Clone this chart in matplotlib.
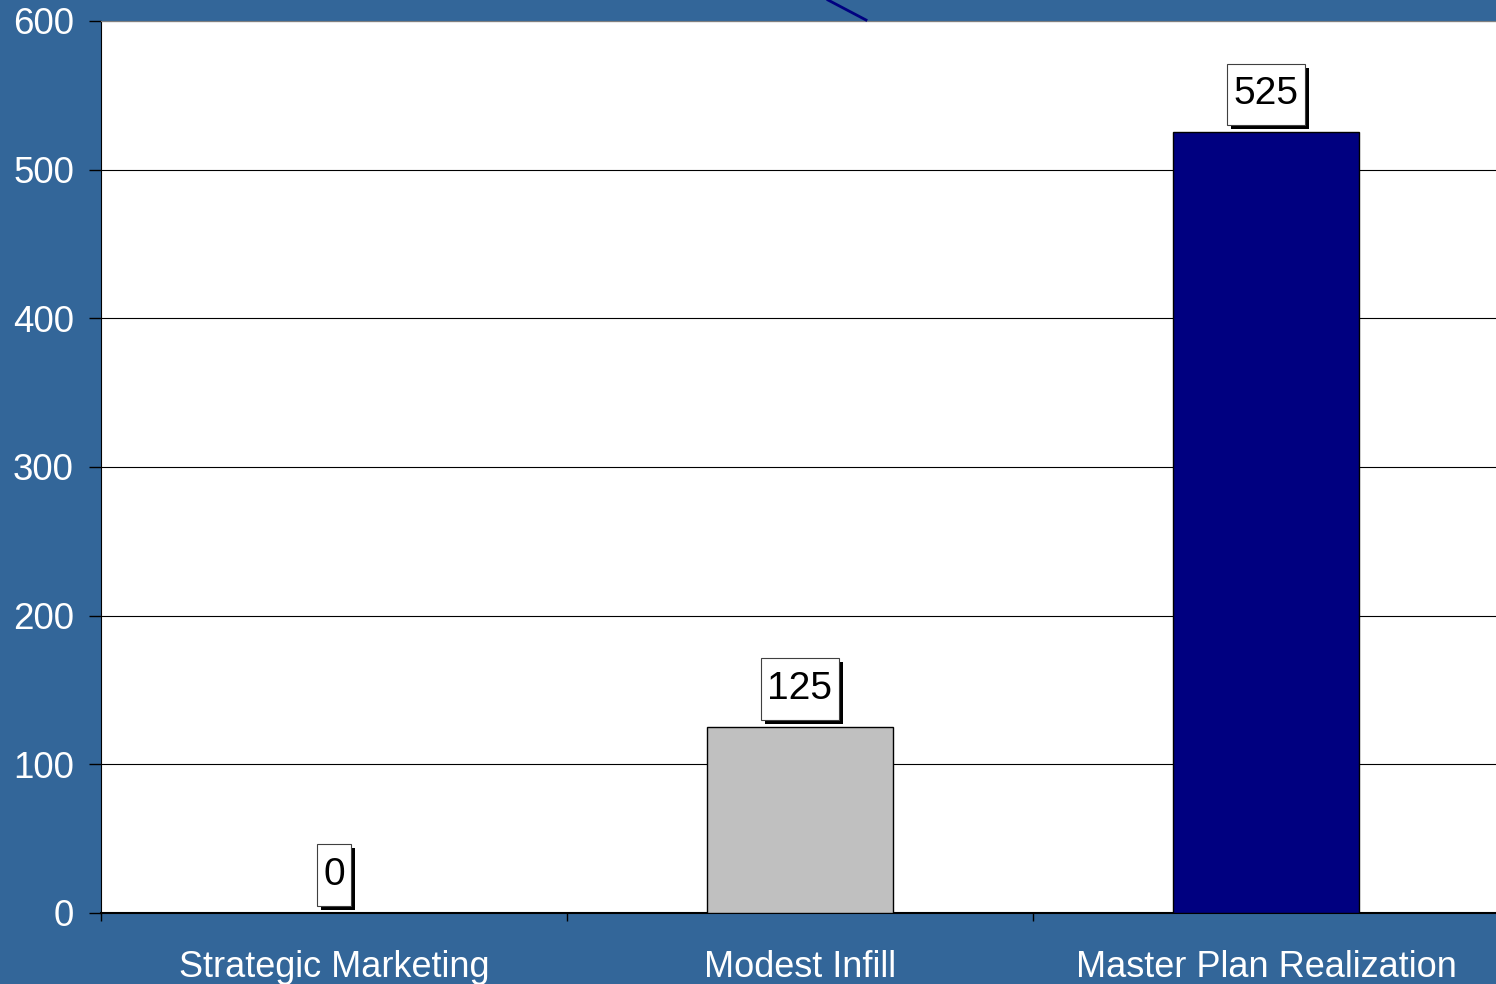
import matplotlib
matplotlib.use("Agg")
import matplotlib.pyplot as plt
from matplotlib.lines import Line2D
from matplotlib.path import Path
from matplotlib import patheffects

plt.rcParams['font.family'] = ['Liberation Sans', 'DejaVu Sans']

# Data
categories = ["Strategic Marketing", "Modest Infill", "Master Plan Realization"]
values = [0, 125, 525]
bar_colors = ["#C0C0C0", "#C0C0C0", "#000080"]
y_ticks = [0, 100, 200, 300, 400, 500, 600]

BG = "#336699"


def label_box(x0, y0, width, height, mutation_size):
    """Square box with separate horizontal / vertical padding."""
    px = 0.16 * mutation_size
    py = 0.33 * mutation_size
    x0, x1 = x0 - px, x0 + width + px
    y0, y1 = y0 - py, y0 + height + py
    return Path([(x0, y0), (x1, y0), (x1, y1), (x0, y1), (x0, y0)], closed=True)


fig = plt.figure(figsize=(14.96, 9.84), dpi=100, facecolor=BG)
ax = fig.add_axes([101 / 1496, 1 - 913 / 984, 1398 / 1496, 892 / 984])
ax.set_facecolor("white")

x = list(range(len(categories)))
ax.bar(x, values, width=0.4, color=bar_colors, edgecolor="black", linewidth=1.0, zorder=3)

ax.set_xlim(-0.5, len(categories) - 0.5)
ax.set_ylim(0, 600)

# gridlines
ax.set_yticks(y_ticks)
ax.yaxis.grid(True, color="black", linewidth=0.8, zorder=1)
ax.set_axisbelow(True)

# x axis: boundary ticks, centered labels
ax.set_xticks([i - 0.5 for i in range(len(categories) + 1)])
ax.set_xticklabels([])
ax.set_xticks(x, minor=True)
ax.set_xticklabels(categories, minor=True)
ax.tick_params(axis="x", which="major", direction="out", length=6, width=1, color="black")
ax.tick_params(axis="x", which="minor", length=0, pad=26.5, labelsize=26, labelcolor="white")
ax.tick_params(axis="y", direction="out", length=8.5, width=1, color="black",
               pad=11, labelsize=26.5, labelcolor="white")

ax.spines["right"].set_visible(False)
ax.spines["top"].set_color("#808080")
ax.spines["left"].set_color("black")
ax.spines["bottom"].set_color("black")
ax.spines["bottom"].set_linewidth(1.5)

# value labels in white boxes with a drop shadow
for xi, v in zip(x, values):
    t = ax.annotate(str(v), xy=(xi, v), xytext=(0, 14.5), textcoords="offset points",
                    ha="center", va="bottom", fontsize=28, color="black",
                    bbox=dict(boxstyle=label_box, facecolor="white",
                              edgecolor="#404040", linewidth=0.8),
                    zorder=5)
    t.get_bbox_patch().set_path_effects([
        patheffects.SimplePatchShadow(offset=(3, -3), shadow_rgbFace="black", alpha=1.0),
        patheffects.Normal(),
    ])

# thin navy stroke across the top band
fig.add_artist(Line2D([828 / 1496, 866 / 1496], [1.0, 1 - 20 / 984],
                      transform=fig.transFigure, color="#000080", linewidth=2))

fig.savefig("out.png", dpi=100, facecolor=BG)
